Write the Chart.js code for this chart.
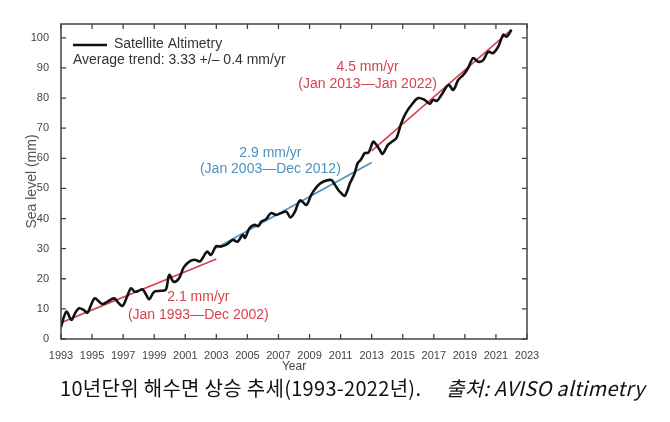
<!DOCTYPE html>
<html>
<head>
<meta charset="utf-8">
<script src="https://cdn.jsdelivr.net/npm/chart.js@4.4.1/dist/chart.umd.min.js"></script>
<style>
  body { margin: 0; background: #fff; }
  #wrap { position: relative; width: 670px; height: 422px; }
  #myChart { position: absolute; left: 0; top: 0; }
  #caption {
    position: absolute; left: 60px; top: 374px;
    font-family: "Noto Sans CJK KR", sans-serif; font-size: 20px; line-height: 28px;
    color: #111; white-space: nowrap; letter-spacing: 0.3px;
  }
  #caption i { margin-left: 20px; }
</style>
</head>
<body>
<div id="wrap">
  <canvas id="myChart" width="670" height="375"></canvas>
  <div id="caption">10년단위 해수면 상승 추세(1993-2022년). <i>출처: AVISO altimetry</i></div>
</div>
<script>
// satellite altimetry series
let years = [
  1993.0, 1993.2, 1993.37, 1993.67, 1993.9, 1994.16, 1994.48, 1994.7, 1994.95, 1995.17,
  1995.45, 1995.66, 1996.0, 1996.42, 1996.7, 1996.96, 1997.25, 1997.5, 1997.75, 1998.0,
  1998.25, 1998.5, 1998.68, 1999.0, 1999.43, 1999.75, 1999.97, 2000.25, 2000.6, 2000.9,
  2001.26, 2001.6, 2001.95, 2002.4, 2002.66, 2002.98, 2003.3, 2003.73, 2004.05, 2004.37,
  2004.7, 2004.85, 2005.13, 2005.45, 2005.7, 2005.9, 2006.2, 2006.52, 2006.85, 2007.17,
  2007.5, 2007.77, 2008.03, 2008.4, 2008.8, 2009.1, 2009.5, 2009.9, 2010.4, 2010.6,
  2010.85, 2011.05, 2011.26, 2011.45, 2011.6, 2011.9, 2012.1, 2012.3, 2012.55, 2012.8,
  2013.1, 2013.3, 2013.5, 2013.7, 2014.05, 2014.3, 2014.6, 2014.9, 2015.2, 2015.56,
  2016.0, 2016.4, 2016.74, 2016.95, 2017.2, 2017.5, 2017.95, 2018.25, 2018.57, 2018.9,
  2019.2, 2019.54, 2019.85, 2020.17, 2020.5, 2020.8, 2021.15, 2021.47, 2021.7, 2022.0
];
let seaLevel = [
  3.9, 7.5, 9.1, 6.3, 8.5, 10.2, 9.6, 8.7, 11.5, 13.5,
  12.4, 11.6, 12.4, 13.5, 12.0, 11.0, 14.0, 16.8, 15.7, 16.0,
  16.5, 14.5, 13.2, 15.7, 16.0, 16.4, 21.3, 19.0, 20.2, 23.8,
  25.7, 26.3, 25.8, 29.0, 27.9, 30.8, 30.7, 31.6, 32.9, 32.3,
  34.6, 33.6, 36.8, 37.9, 37.5, 39.0, 39.8, 41.8, 41.2, 41.8,
  42.3, 40.4, 42.0, 46.0, 44.5, 47.8, 50.8, 52.3, 52.8, 51.5,
  49.5, 48.4, 47.5, 49.5, 51.7, 55.0, 58.4, 59.5, 61.7, 61.9,
  65.5, 64.5, 63.0, 61.5, 64.5, 65.5, 66.8, 71.6, 75.0, 77.7,
  80.0, 79.4, 78.1, 79.4, 79.1, 81.1, 84.4, 82.7, 86.0, 87.7,
  89.9, 93.3, 92.1, 92.5, 95.4, 94.9, 97.1, 101.0, 100.4, 102.7
];

// decade trend lines (start, end)
let trend1Years = [1993, 2003];
let trend1Values = [5.4, 26.6];
let trend2Years = [2003, 2013];
let trend2Values = [30.2, 58.6];
let trend3Years = [2013, 2022];
let trend3Values = [62.5, 102.7];

let xTicks = [1993, 1995, 1997, 1999, 2001, 2003, 2005, 2007, 2009, 2011, 2013, 2015, 2017, 2019, 2021, 2023];
let yTicks = [0, 10, 20, 30, 40, 50, 60, 70, 80, 90, 100];

const RED = '#d8434f';
const BLUE = '#4a93bd';

// trend text, anchored in data units
const notes = [
  { x: 2012.74, y: 90.4, text: '4.5 mm/yr', color: RED },
  { x: 2012.74, y: 84.7, text: '(Jan 2013\u2014Jan 2022)', color: RED },
  { x: 2006.48, y: 61.8, text: '2.9 mm/yr', color: BLUE },
  { x: 2006.48, y: 56.5, text: '(Jan 2003\u2014Dec 2012)', color: BLUE },
  { x: 2001.84, y: 14.0, text: '2.1 mm/yr', color: RED },
  { x: 2001.84, y: 8.0, text: '(Jan 1993\u2014Dec 2002)', color: RED }
];

function pts(xs, ys) {
  return xs.map((x, i) => ({ x: x, y: ys[i] }));
}

const TICK_FONT = { family: '"Liberation Sans Narrow", "Liberation Sans", Arial', size: 11 };

const frame = {
  id: 'frame',
  afterDatasetsDraw(chart) {
    const ctx = chart.ctx;
    const a = chart.chartArea;
    const xs = chart.scales.x, ys = chart.scales.y;
    ctx.save();
    ctx.strokeStyle = '#444';
    ctx.lineWidth = 1.5;
    ctx.strokeRect(a.left, a.top, a.right - a.left, a.bottom - a.top);
    ctx.lineWidth = 1.3;
    ctx.beginPath();
    xTicks.forEach(v => {
      const px = xs.getPixelForValue(v);
      ctx.moveTo(px, a.bottom); ctx.lineTo(px, a.bottom - 5);
      ctx.moveTo(px, a.top); ctx.lineTo(px, a.top + 5);
    });
    yTicks.forEach(v => {
      const py = ys.getPixelForValue(v);
      ctx.moveTo(a.left, py); ctx.lineTo(a.left + 5, py);
      ctx.moveTo(a.right, py); ctx.lineTo(a.right - 5, py);
    });
    ctx.stroke();

    // legend
    ctx.strokeStyle = '#111';
    ctx.lineWidth = 2.6;
    ctx.beginPath();
    ctx.moveTo(a.left + 12, a.top + 21);
    ctx.lineTo(a.left + 46, a.top + 21);
    ctx.stroke();
    ctx.fillStyle = '#333';
    ctx.font = '14px "Liberation Sans", Arial';
    ctx.textBaseline = 'middle';
    ctx.textAlign = 'left';
    ctx.fillText('Satellite Altimetry', a.left + 53, a.top + 20);
    ctx.fillText('Average trend: 3.33 +/\u2013 0.4 mm/yr', a.left + 12, a.top + 36);

    // trend notes
    ctx.textAlign = 'center';
    notes.forEach(n => {
      ctx.fillStyle = n.color;
      ctx.fillText(n.text, xs.getPixelForValue(n.x), ys.getPixelForValue(n.y));
    });
    ctx.restore();
  }
};

const ctx = document.getElementById('myChart').getContext('2d');
const myChart = new Chart(ctx, {
  type: 'line',
  data: {
    datasets: [
      { label: 'Satellite Altimetry', data: pts(years, seaLevel), borderColor: '#111', borderWidth: 2.6, pointRadius: 0, tension: 0.35 },
      { label: 'trend 1993-2002', data: pts(trend1Years, trend1Values), borderColor: RED, borderWidth: 1.6, pointRadius: 0 },
      { label: 'trend 2003-2012', data: pts(trend2Years, trend2Values), borderColor: BLUE, borderWidth: 1.6, pointRadius: 0 },
      { label: 'trend 2013-2022', data: pts(trend3Years, trend3Values), borderColor: RED, borderWidth: 1.6, pointRadius: 0 }
    ]
  },
  options: {
    responsive: false,
    animation: false,
    devicePixelRatio: 1,
    layout: { padding: { top: 24, right: 143, left: 0, bottom: 0 } },
    plugins: { legend: { display: false }, tooltip: { enabled: false } },
    scales: {
      x: {
        type: 'linear', min: 1993, max: 2023,
        afterBuildTicks: s => { s.ticks = xTicks.map(v => ({ value: v })); },
        afterFit: s => { s.height = 36; },
        ticks: { callback: v => String(v), font: TICK_FONT, color: '#444', padding: 2, maxRotation: 0, autoSkip: false },
        grid: { display: false },
        border: { display: false },
        title: { display: true, text: 'Year', color: '#444', font: { family: '"Liberation Sans", Arial', size: 12 }, padding: { top: 0, bottom: 1 } }
      },
      y: {
        min: 0, max: 104.6,
        afterBuildTicks: s => { s.ticks = yTicks.map(v => ({ value: v })); },
        afterFit: s => { s.width = 61; },
        ticks: { font: TICK_FONT, color: '#444', padding: 4 },
        grid: { display: false },
        border: { display: false },
        title: { display: true, text: 'Sea level (mm)', color: '#555', font: { family: '"Liberation Sans", Arial', size: 14 }, padding: { top: 24, bottom: 0 } }
      }
    }
  },
  plugins: [frame]
});
</script>
</body>
</html>
